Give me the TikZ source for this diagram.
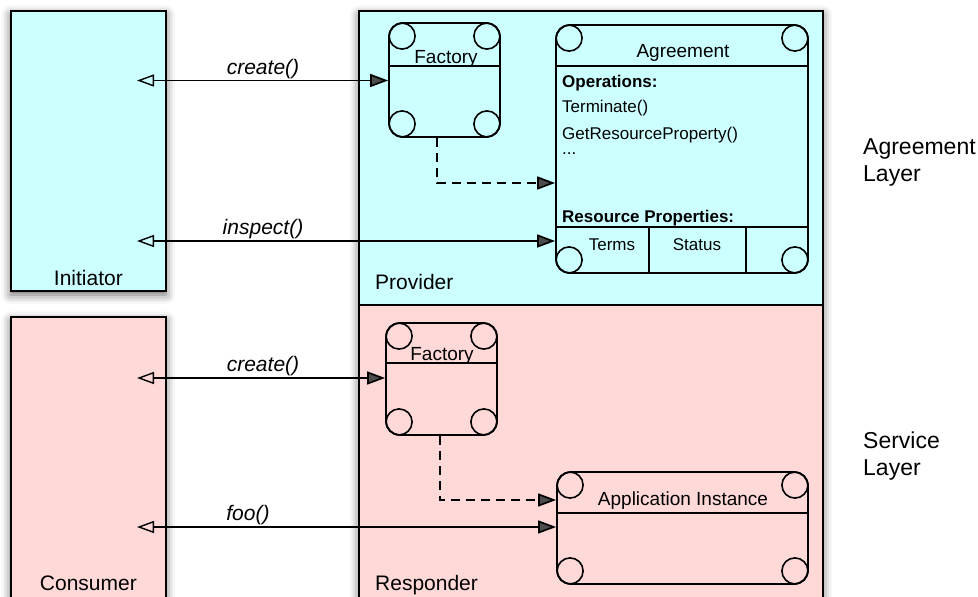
\documentclass[tikz,border=0pt]{standalone}
\usepackage{fontspec}
\setmainfont{Liberation Sans}
\usetikzlibrary{arrows.meta,shadows.blur,calc}
\definecolor{agreecyan}{HTML}{CCFFFF}
\definecolor{servpink}{HTML}{FFD8D8}

% four small circles in the corners of a rounded class box
\newcommand\umlcorners[1]{%
  \foreach \a/\dx/\dy in {north west/14/14, north east/-14/14, south west/14/-14, south east/-14/-14}
    \draw[line width=1.6pt] ([shift={(\dx,\dy)}]#1.\a) circle[radius=13pt];}

\begin{document}
\begin{tikzpicture}[x=1pt,y=-1pt,
  lbl/.style={font=\fontsize{19}{23}\selectfont, inner sep=0pt},
  biglbl/.style={font=\fontsize{21}{25}\selectfont, inner sep=0pt},
  sidelbl/.style={font=\fontsize{23}{27}\selectfont, inner sep=0pt},
  msg/.style={font=\fontsize{21}{25}\selectfont\itshape, inner sep=0pt, anchor=base},
  small/.style={font=\fontsize{17}{20}\selectfont, inner sep=0pt},
  layer/.style={draw=black, line width=2pt, inner sep=0pt},
  boxshadow/.style={blur shadow={shadow xshift=0pt, shadow yshift=-4pt, shadow blur radius=9pt, shadow opacity=60}},
  uml/.style={draw=black, line width=1.8pt, rounded corners=14pt, inner sep=0pt},
  link/.style={line width=1.7pt, {Triangle[open,length=17pt,width=12pt,line width=1.4pt]}-{Triangle[length=18pt,width=13pt]}},
  dlink/.style={line width=1.7pt, dash pattern=on 9pt off 6pt, -{Triangle[length=18pt,width=13pt]}},
]
\useasboundingbox (0,0) rectangle (978,597);

% drop shadows of the participant boxes
\path[boxshadow] (10.7,10.7) rectangle (166,290.7);
\path[boxshadow] (10.7,316.7) rectangle (166,620);
\path[boxshadow] (359,10.7) rectangle (823,620);

% participants
\node[layer, fill=agreecyan, minimum width=155.3pt, minimum height=280pt] (init) at (88.35,150.7) {};
\node[layer, fill=servpink, minimum width=155.3pt, minimum height=303.3pt] (cons) at (88.35,468.35) {};
\node[layer, fill=agreecyan, minimum width=464pt, minimum height=294.3pt] (prov) at (591,157.85) {};
\node[layer, fill=servpink, minimum width=464pt, minimum height=315pt] (resp) at (591,462.5) {};

\node[biglbl, anchor=base] (initlbl) at (88.35,285.5) {Initiator};
\node[biglbl, anchor=base] (conslbl) at (88.35,590.5) {Consumer};
\node[biglbl, anchor=base west] (provlbl) at (375,289.5) {Provider};
\node[biglbl, anchor=base west] (resplbl) at (375,590.5) {Responder};

% layer captions
\node[sidelbl, anchor=base west] (agl1) at (863,154) {Agreement};
\node[sidelbl, anchor=base west] (agl2) at (863,181) {Layer};
\node[sidelbl, anchor=base west] (svl1) at (863,448) {Service};
\node[sidelbl, anchor=base west] (svl2) at (863,475) {Layer};

% agreement-layer factory
\node[uml, minimum width=111pt, minimum height=114pt] (fac1) at (444.5,80) {};
\coordinate (f1div) at (0,66);
\draw[line width=1.6pt] (fac1.west |- f1div) -- (fac1.east |- f1div);
\umlcorners{fac1}
\node[lbl, anchor=base] (fac1t) at (446,63) {Factory};

% agreement
\node[uml, minimum width=252pt, minimum height=248pt] (agr) at (682,149) {};
\coordinate (agdiv) at (0,66);
\coordinate (rpdiv) at (0,227);
\coordinate (col1) at (649,227);
\coordinate (col2) at (746,227);
\draw[line width=1.6pt] (agr.west |- agdiv) -- (agr.east |- agdiv);
\draw[line width=1.6pt] (agr.west |- rpdiv) -- (agr.east |- rpdiv);
\draw[line width=1.6pt] (col1) -- (col1 |- agr.south);
\draw[line width=1.6pt] (col2) -- (col2 |- agr.south);
\umlcorners{agr}
\node[lbl, anchor=base] (agrt) at (683,57) {Agreement};
\node[small, anchor=base west, font=\fontsize{17}{20}\selectfont\bfseries] (ops) at (562,87) {Operations:};
\node[small, anchor=base west] (op1) at (562,112) {Terminate()};
\node[small, anchor=base west, text depth=0pt] (op2) at (562,139) {GetResourceProperty()};
\node[small, anchor=base west] (op3) at (562,154) {...};
\node[small, anchor=base west, font=\fontsize{17}{20}\selectfont\bfseries] (rps) at (562,222) {Resource Properties:};
\node[small, anchor=base] (terms) at (612,250) {Terms};
\node[small, anchor=base] (status) at (697,250) {Status};

% service-layer factory
\node[uml, minimum width=111pt, minimum height=112pt] (fac2) at (441.5,379) {};
\coordinate (f2div) at (0,363);
\draw[line width=1.6pt] (fac2.west |- f2div) -- (fac2.east |- f2div);
\umlcorners{fac2}
\node[lbl, anchor=base] (fac2t) at (442,360) {Factory};

% application instance
\node[uml, minimum width=251pt, minimum height=112pt] (app) at (682.5,528) {};
\coordinate (apdiv) at (0,513);
\draw[line width=1.6pt] (app.west |- apdiv) -- (app.east |- apdiv);
\umlcorners{app}
\node[lbl, anchor=base] (appt) at (683,505) {Application Instance};

% calls
\coordinate (iA) at (137,80.5);
\coordinate (iB) at (137,241);
\coordinate (cA) at (137,378);
\coordinate (cB) at (137,527);
\draw[link] (iA) -- (fac1.west |- iA);
\draw[link] (iB) -- (agr.west |- iB);
\draw[link] (cA) -- (fac2.west |- cA);
\draw[link] (cB) -- (app.west |- cB);
\node[msg] (m1) at (263,74) {create()};
\node[msg] (m2) at (263,234.5) {inspect()};
\node[msg] (m3) at (263,371.5) {create()};
\node[msg] (m4) at (248,520.5) {foo()};

% factories create their products
\coordinate (d1) at (0,183);
\coordinate (d2) at (0,500);
\draw[dlink] ([xshift=-7.5pt]fac1.south) |- (agr.west |- d1);
\draw[dlink] ([xshift=-1.5pt]fac2.south) |- (app.west |- d2);
\end{tikzpicture}
\end{document}
